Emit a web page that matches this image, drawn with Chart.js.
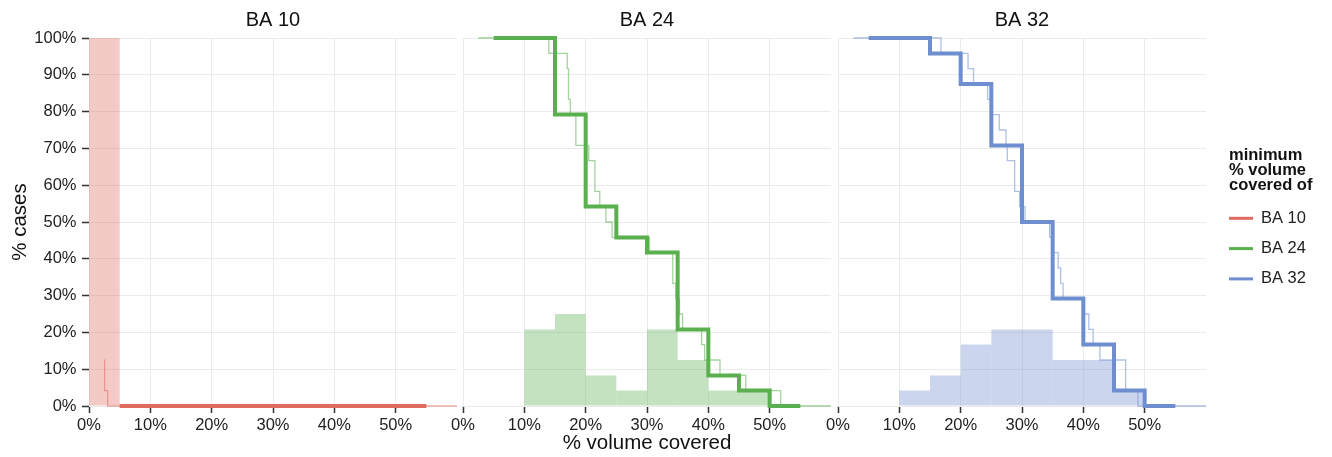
<!DOCTYPE html>
<html>
<head>
<meta charset="utf-8">
<script src="https://cdn.jsdelivr.net/npm/chart.js@4.4.1/dist/chart.umd.min.js"></script>
<style>
  html, body { margin: 0; padding: 0; background: #fff; }
  #wrap { position: relative; width: 1332px; height: 457px; overflow: hidden; background: #fff; }
  .panel { position: absolute; top: 0; height: 457px; }
</style>
</head>
<body>
<div id="wrap">
  <div class="panel" style="left:0px;width:460px"><canvas id="c1"></canvas></div>
  <div class="panel" style="left:440px;width:400px"><canvas id="c2"></canvas></div>
  <div class="panel" style="left:815px;width:517px"><canvas id="c3"></canvas></div>
</div>
<script>
// ---------------- data ----------------
const panelNames = ['BA 10', 'BA 24', 'BA 32'];
const xAxisTitle = '% volume covered';
const yAxisTitle = '% cases';
const legendTitleLines = ['minimum', '% volume', 'covered of'];

const xTicks = [0, 10, 20, 30, 40, 50];
const xTickLabels = ['0%', '10%', '20%', '30%', '40%', '50%'];
const yTicks = [0, 10, 20, 30, 40, 50, 60, 70, 80, 90, 100];
const yTickLabels = ['0%', '10%', '20%', '30%', '40%', '50%', '60%', '70%', '80%', '90%', '100%'];

// histogram (% cases per 5% bin), bin centres
const binCenters = [2.5, 7.5, 12.5, 17.5, 22.5, 27.5, 32.5, 37.5, 42.5, 47.5, 52.5];
const histBA10 = [100, 0, 0, 0, 0, 0, 0, 0, 0, 0, 0];
const histBA24 = [0, 0, 20.8, 25.0, 8.3, 4.2, 20.8, 12.5, 4.2, 4.2, 0];
const histBA32 = [0, 0, 4.2, 8.3, 16.7, 20.8, 20.8, 12.5, 12.5, 4.2, 0];

// binned cumulative (% cases with at least x covered), thick step line
const binnedX = [5, 15, 20, 25, 30, 35, 40, 45, 50, 55];
const binnedBA10 = [0, 0, 0, 0, 0, 0, 0, 0, 0, 0];
const binnedBA24 = [100, 79.2, 54.2, 45.8, 41.7, 20.8, 8.3, 4.2, 0, 0];
const binnedBA32 = [100, 95.8, 87.5, 70.8, 50.0, 29.2, 16.7, 4.2, 0, 0];

// exact cumulative, thin step line
const exactXBA10 = [2.5, 2.55, 3.05, 60];
const exactYBA10 = [12.5, 4.2, 0, 0];
const exactXBA24 = [2.5, 14.0, 17.0, 17.2, 17.5, 18.4, 20.5, 21.5, 22.3, 23.3, 24.3, 30.4, 34.2, 34.7, 35.3, 35.8, 38.9, 39.4, 41.9, 46.1, 51.8, 60];
const exactYBA24 = [100, 95.8, 91.7, 83.3, 79.2, 70.8, 66.7, 58.3, 54.2, 50.0, 45.8, 41.7, 33.3, 29.2, 25.0, 20.8, 16.7, 12.5, 8.3, 4.2, 0, 0];
const exactXBA32 = [2.5, 16.8, 21.2, 22.1, 24.4, 25.0, 26.3, 27.4, 27.6, 28.8, 29.6, 30.5, 34.5, 35.0, 35.9, 36.3, 36.7, 40.0, 40.9, 41.6, 42.7, 46.9, 48.9, 60];
const exactYBA32 = [100, 95.8, 91.7, 87.5, 83.3, 79.2, 75.0, 70.8, 66.7, 58.3, 54.2, 50.0, 45.8, 41.7, 37.5, 33.3, 29.2, 25.0, 20.8, 16.7, 12.5, 4.2, 0, 0];

// ---------------- styles ----------------
const seriesRGB = [[224, 108, 96], [90, 176, 78], [110, 142, 208]];
const rgba = (c, a) => `rgba(${c[0]},${c[1]},${c[2]},${a})`;
const GRID = '#EBEBEB';
const FONT = '"Liberation Sans", Arial, Helvetica, sans-serif';

Chart.defaults.font.family = FONT;
Chart.defaults.color = '#222';

const hist = [histBA10, histBA24, histBA32];
const binnedY = [binnedBA10, binnedBA24, binnedBA32];
const exactX = [exactXBA10, exactXBA24, exactXBA32];
const exactY = [exactYBA10, exactYBA24, exactYBA32];
const pts = (xs, ys) => xs.map((x, i) => ({ x: x, y: ys[i] }));

// legend drawn at the right of the last panel
const facetLegend = {
  id: 'facetLegend',
  afterDraw(chart, args, opts) {
    if (!opts.show) return;
    const ctx = chart.ctx;
    const x0 = chart.chartArea.right + 23;
    ctx.save();
    ctx.fillStyle = '#111';
    ctx.textAlign = 'left';
    ctx.textBaseline = 'alphabetic';
    ctx.font = 'bold 16.5px ' + FONT;
    legendTitleLines.forEach((t, i) => ctx.fillText(t, x0, 160 + 15 * i));
    ctx.font = '16.5px ' + FONT;
    ctx.textBaseline = 'middle';
    panelNames.forEach((name, i) => {
      const y = 218.3 + 30.3 * i;
      ctx.strokeStyle = rgba(seriesRGB[i], 1);
      ctx.lineWidth = 3;
      ctx.beginPath();
      ctx.moveTo(x0, y);
      ctx.lineTo(x0 + 24, y);
      ctx.stroke();
      ctx.fillStyle = '#222';
      ctx.fillText(name, x0 + 32, y);
    });
    ctx.restore();
  }
};

function makePanel(id, k, cfg) {
  const col = seriesRGB[k];
  return new Chart(document.getElementById(id), {
    type: 'line',
    data: {
      datasets: [
        { type: 'line', label: panelNames[k], data: pts(binnedX, binnedY[k]), stepped: true,
          borderColor: rgba(col, 1), borderWidth: 4, pointRadius: 0, fill: false, order: 0, clip: 6 },
        { type: 'line', label: panelNames[k] + ' exact', data: pts(exactX[k], exactY[k]), stepped: true,
          borderColor: rgba(col, 0.55), borderWidth: 1.3, pointRadius: 0, fill: false, order: 1, clip: 6 },
        { type: 'bar', label: panelNames[k] + ' histogram', data: pts(binCenters, hist[k]),
          backgroundColor: rgba(col, 0.36), borderWidth: 0, barPercentage: 1, categoryPercentage: 1,
          inflateAmount: 0, order: 2 }
      ]
    },
    options: {
      responsive: true, maintainAspectRatio: false, animation: false, devicePixelRatio: 1,
      events: [],
      layout: { padding: { left: cfg.padLeft, right: cfg.padRight, top: 0, bottom: 0 } },
      plugins: {
        legend: { display: false },
        tooltip: { enabled: false },
        title: { display: true, text: panelNames[k], fullSize: false, color: '#111',
                 font: { size: 20, weight: 'normal' }, padding: { top: 8, bottom: 6 } },
        facetLegend: { show: !!cfg.legend }
      },
      scales: {
        x: {
          type: 'linear', min: 0, max: 60, offset: false,
          afterBuildTicks: s => { s.ticks = xTicks.map(v => ({ value: v })); },
          afterFit: s => { s.height = 51; },
          ticks: { callback: v => xTickLabels[xTicks.indexOf(v)], font: { size: 16.5 }, color: '#222',
                   padding: 3, maxRotation: 0, autoSkip: false },
          grid: { offset: false, color: GRID, lineWidth: 1, drawTicks: true, tickLength: 7, tickColor: '#333', tickWidth: 1.5 },
          border: { display: false },
          title: { display: !!cfg.xTitle, text: xAxisTitle, color: '#111', font: { size: 20.5 },
                   padding: { top: 0, bottom: 1.2 } }
        },
        y: {
          type: 'linear', min: 0, max: 100,
          afterBuildTicks: s => { s.ticks = yTicks.map(v => ({ value: v })); },
          afterFit: s => { s.width = cfg.yWidth; },
          ticks: { display: !!cfg.yAxis, callback: v => yTickLabels[yTicks.indexOf(v)],
                   font: { size: 16.5 }, color: '#222', padding: 5.5 },
          grid: { offset: false, color: GRID, lineWidth: 1, drawTicks: !!cfg.yAxis, tickLength: 7, tickColor: '#333', tickWidth: 1.5 },
          border: { display: false },
          title: { display: !!cfg.yAxis, text: yAxisTitle, color: '#111', font: { size: 20.5 },
                   padding: { top: 7.7, bottom: 0 } }
        }
      }
    },
    plugins: cfg.legend ? [facetLegend] : []
  });
}

makePanel('c1', 0, { padLeft: 0, padRight: 3, yWidth: 89, yAxis: true });
makePanel('c2', 1, { padLeft: 23, padRight: 9, yWidth: 0, xTitle: true });
makePanel('c3', 2, { padLeft: 23, padRight: 126, yWidth: 0, legend: true });
</script>
</body>
</html>
